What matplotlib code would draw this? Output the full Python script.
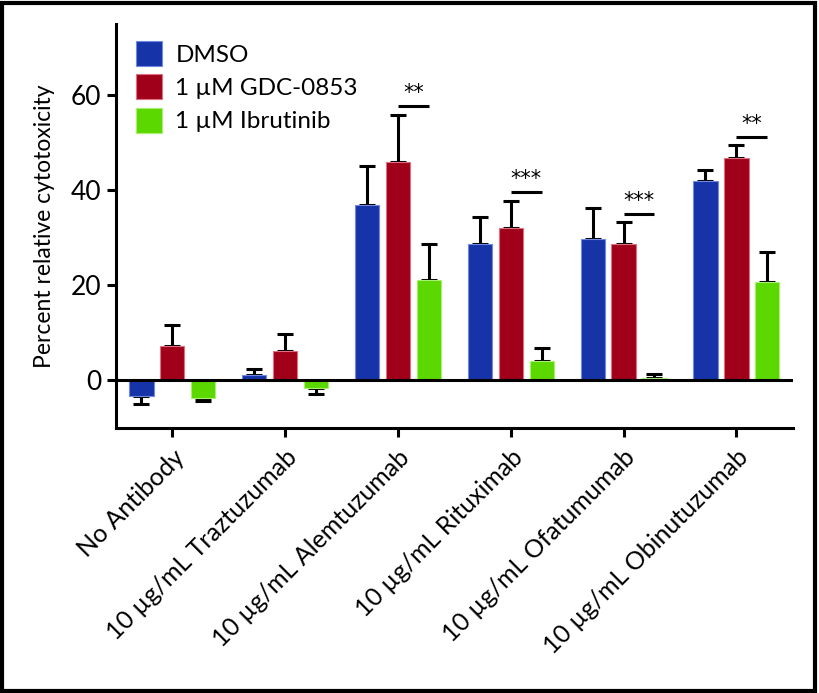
import numpy as np
import matplotlib.pyplot as plt
from matplotlib.patches import Rectangle

categories = ['No Antibody', '10 µg/mL Traztuzumab', '10 µg/mL Alemtuzumab',
              '10 µg/mL Rituximab', '10 µg/mL Ofatumumab', '10 µg/mL Obinutuzumab']
series = ['DMSO', '1 µM GDC-0853', '1 µM Ibrutinib']

dmso = [-3.3, 1.2, 36.9, 28.8, 29.7, 42.0]
dmso_err = [1.6, 1.3, 8.3, 5.6, 6.5, 2.2]
gdc = [7.3, 6.3, 45.9, 32.1, 28.8, 46.7]
gdc_err = [4.3, 3.5, 9.9, 5.6, 4.5, 2.9]
ibr = [-3.7, -1.6, 21.1, 4.2, 0.5, 20.7]
ibr_err = [0.7, 1.2, 7.7, 2.7, 0.9, 6.4]

# significance between GDC-0853 and ibrutinib
sig_idx = [2, 3, 4, 5]
sig_y = [57.8, 39.7, 35.1, 51.3]
sig_txt = ['**', '***', '***', '**']

colors = ['#1634a8', '#a0001a', '#5ad800']
edges = ['#6f8ae0', '#e0707f', '#a8f070']

plt.rcParams['font.family'] = ['Lato', 'DejaVu Sans']

fig = plt.figure(figsize=(8.19, 6.93), dpi=100)
ax = fig.add_axes([0.1416, 0.3824, 0.8264, 0.583])

x = np.arange(len(categories))
off = 0.274
w = 0.215
for i, (vals, errs) in enumerate([(dmso, dmso_err), (gdc, gdc_err), (ibr, ibr_err)]):
    pos = x + (i - 1) * off
    vals = np.array(vals)
    errs = np.array(errs)
    lower = np.where(vals < 0, errs, 0)
    upper = np.where(vals >= 0, errs, 0)
    ax.bar(pos, vals, w, color=colors[i], edgecolor=edges[i], linewidth=0.8,
           label=series[i], zorder=2)
    ax.errorbar(pos, vals, yerr=[lower, upper], fmt='none', ecolor='black',
                elinewidth=2.2, capsize=5.5, capthick=2.2, zorder=1)

for k, yv, t in zip(sig_idx, sig_y, sig_txt):
    ax.plot([x[k], x[k] + off], [yv, yv], color='black', lw=2.2, solid_capstyle='butt')
    ax.text(x[k] + off / 2, yv + 0.6, t, ha='center', va='bottom', fontsize=15,
            family='DejaVu Sans')

ax.axhline(0, color='black', lw=2.2, zorder=3)

ax.set_xlim(-0.5, 5.5)
ax.set_ylim(-10, 75)
ax.set_yticks([0, 20, 40, 60])
ax.set_xticks(x)
ax.set_xticklabels(categories, rotation=45, ha='right', rotation_mode='anchor', fontsize=18)
ax.tick_params(axis='y', labelsize=19, width=2.2, length=6.5, pad=4)
ax.tick_params(axis='x', width=2.2, length=6.5, pad=6)
for s in ['top', 'right']:
    ax.spines[s].set_visible(False)
for s in ['left', 'bottom']:
    ax.spines[s].set_linewidth(2.2)

ax.set_ylabel('Percent relative cytotoxicity', fontsize=16.5, labelpad=11)

ax.legend(loc='upper left', bbox_to_anchor=(0.005, 1.0), frameon=False, fontsize=17.5,
          handlelength=1.05, handleheight=1.2, handletextpad=0.55, labelspacing=0.35,
          borderaxespad=0.3)

fig.patches.append(Rectangle((0.002, 0.003), 0.993, 0.992, transform=fig.transFigure,
                             fill=False, edgecolor='black', lw=3))

fig.savefig('out.png', dpi=100)
